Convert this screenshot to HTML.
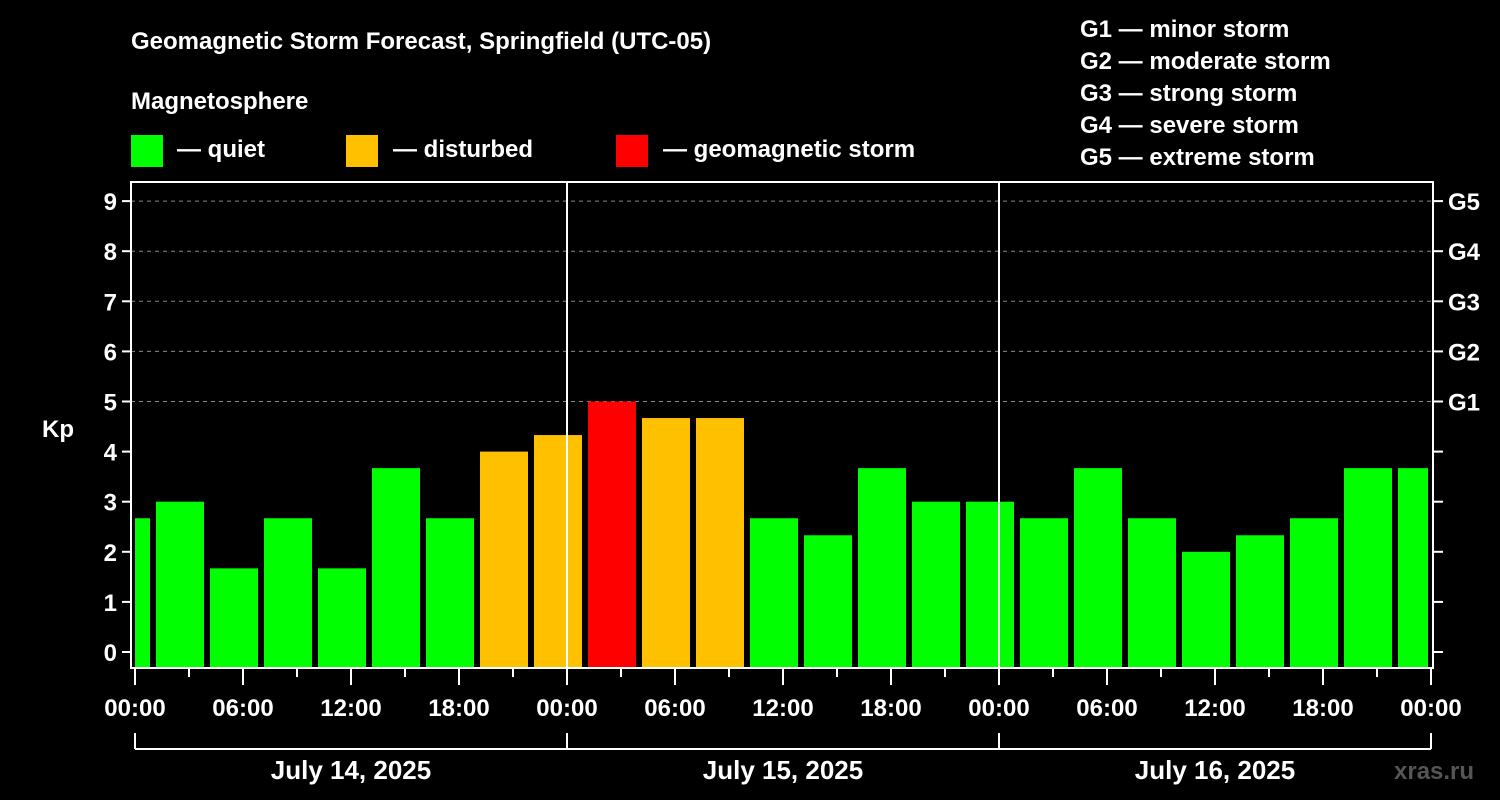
<!DOCTYPE html>
<html><head><meta charset="utf-8"><style>
body{margin:0;background:#000;}
svg{display:block;font-family:"Liberation Sans",sans-serif;font-weight:bold;}
</style></head><body>
<svg width="1500" height="800" viewBox="0 0 1500 800">
<g id="head" fill="#fff" font-size="24">
<text x="131" y="49">Geomagnetic Storm Forecast, Springfield (UTC-05)</text>
<text x="131" y="109">Magnetosphere</text>
<rect x="131" y="135" width="32" height="32" fill="#00ff00"/>
<text x="177" y="157">— quiet</text>
<rect x="346" y="135" width="32" height="32" fill="#ffc000"/>
<text x="393" y="157">— disturbed</text>
<rect x="616" y="135" width="32" height="32" fill="#ff0000"/>
<text x="663" y="157">— geomagnetic storm</text>
<text x="1080" y="37">G1 — minor storm</text>
<text x="1080" y="69">G2 — moderate storm</text>
<text x="1080" y="101">G3 — strong storm</text>
<text x="1080" y="133">G4 — severe storm</text>
<text x="1080" y="165">G5 — extreme storm</text>
<text x="42" y="437">Kp</text>
<text x="1394" y="779" fill="#555">xras.ru</text>
</g>
<defs><clipPath id="pc"><rect x="135" y="180" width="1293" height="490"/></clipPath></defs>
<g id="grid"></g>
<g id="bars" clip-path="url(#pc)"></g>
<g id="axes"></g>
</svg>
<script>
const kpValues=[2.67,3,1.67,2.67,1.67,3.67,2.67,4,4.33,5,4.67,4.67,2.67,2.33,3.67,3,3,2.67,3.67,2.67,2,2.33,2.67,3.67,3.67];
const yTicks=[0,1,2,3,4,5,6,7,8,9];
const gLabels=["G1","G2","G3","G4","G5"];
const xTickLabels=["00:00","06:00","12:00","18:00","00:00","06:00","12:00","18:00","00:00","06:00","12:00","18:00","00:00"];
const dayLabels=["July 14, 2025","July 15, 2025","July 16, 2025"];
const NS="http://www.w3.org/2000/svg";
const x0=135,pxH=18,yZero=652,pxK=50.1,L=131,R=1433,T=182,B=668;
const X=h=>x0+h*pxH, Y=v=>yZero-v*pxK;
function mk(tag,attrs,parent,txt){const e=document.createElementNS(NS,tag);for(const k in attrs)e.setAttribute(k,attrs[k]);if(txt!=null)e.textContent=txt;document.getElementById(parent).appendChild(e);return e;}
const col=v=>v>=5?"#ff0000":(v>=4?"#ffc000":"#00ff00");
kpValues.forEach((v,i)=>{
 const c=X(-0.5+3*i);
 const r=mk("rect",{x:c-24,y:Y(v),width:48,height:B-Y(v),fill:col(v)},"bars");
 
 
});
yTicks.forEach(v=>{
 if(v>=5){const g=mk("line",{x1:L,x2:R,y1:Y(v),y2:Y(v),stroke:"#888","stroke-dasharray":"4,4","stroke-width":1},"grid");
 
 }
 mk("line",{x1:L-9,x2:L,y1:Y(v),y2:Y(v),stroke:"#fff","stroke-width":2},"axes");
 mk("line",{x1:R,x2:R+10,y1:Y(v),y2:Y(v),stroke:"#fff","stroke-width":2},"axes");
 const t=mk("text",{x:L-14,y:Y(v)+9,fill:"#fff","font-size":24,"text-anchor":"end"},"axes",String(v));
 
 
});
gLabels.forEach((g,i)=>{
 const t=mk("text",{x:1448,y:Y(5+i)+9,fill:"#fff","font-size":24},"axes",g);
 
 
});
[24,48].forEach(h=>{mk("line",{x1:X(h),x2:X(h),y1:T,y2:B,stroke:"#fff","stroke-width":2},"axes");});
const f=mk("rect",{x:L,y:T,width:R-L,height:B-T,fill:"none",stroke:"#fff","stroke-width":2},"axes");


for(let h=0;h<=72;h+=3){const maj=h%6===0;mk("line",{x1:X(h),x2:X(h),y1:B,y2:maj?685:677,stroke:"#fff","stroke-width":2},"axes");}
xTickLabels.forEach((s,i)=>{
 const t=mk("text",{x:X(6*i),y:716,fill:"#fff","font-size":24,"text-anchor":"middle"},"axes",s);
 
 
});
mk("line",{x1:X(0),x2:X(72),y1:749,y2:749,stroke:"#fff","stroke-width":2},"axes");
[0,24,48,72].forEach(h=>mk("line",{x1:X(h),x2:X(h),y1:733,y2:749,stroke:"#fff","stroke-width":2},"axes"));
dayLabels.forEach((s,i)=>{
 const t=mk("text",{x:X(24*i+12),y:779,fill:"#fff","font-size":26,"text-anchor":"middle"},"axes",s);
 
 
});
</script>
</body></html>
